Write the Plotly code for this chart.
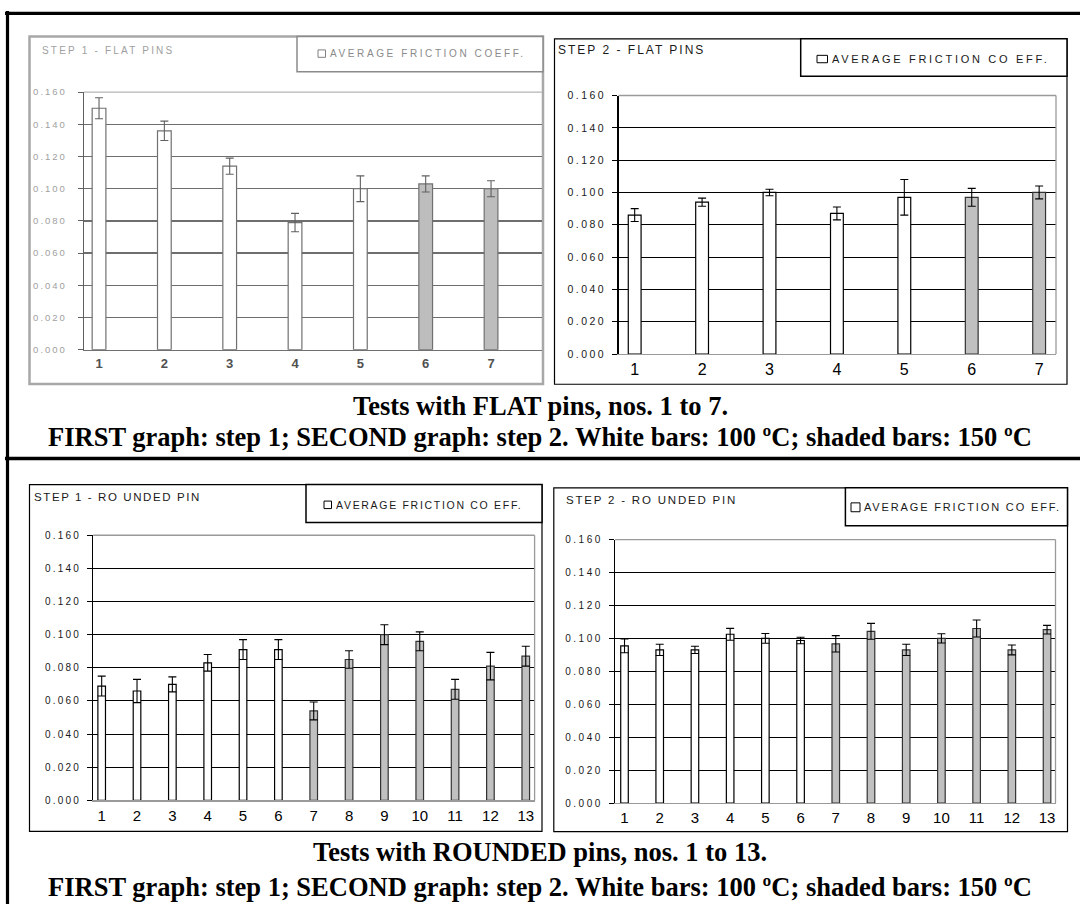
import plotly.graph_objects as go

W, H = 1080, 910

# ---------------- data ----------------
flat_tests = [1, 2, 3, 4, 5, 6, 7]
flat_temp_c = [100, 100, 100, 100, 100, 150, 150]
flat_step1_mu = [0.150, 0.136, 0.114, 0.079, 0.100, 0.103, 0.100]
flat_step1_err = [0.0065, 0.006, 0.005, 0.0057, 0.008, 0.005, 0.005]
flat_step2_mu = [0.086, 0.094, 0.100, 0.087, 0.097, 0.097, 0.100]
flat_step2_err = [0.004, 0.0025, 0.002, 0.004, 0.011, 0.0055, 0.004]

rounded_tests = [1, 2, 3, 4, 5, 6, 7, 8, 9, 10, 11, 12, 13]
rounded_temp_c = [100, 100, 100, 100, 100, 100, 150, 150, 150, 150, 150, 150, 150]
rounded_step1_mu = [0.069, 0.066, 0.070, 0.083, 0.091, 0.091, 0.054, 0.085,
                    0.100, 0.096, 0.067, 0.081, 0.087]
rounded_step1_err = [0.006, 0.007, 0.0045, 0.005, 0.006, 0.006, 0.0054, 0.0053,
                     0.006, 0.0057, 0.006, 0.0083, 0.006]
rounded_step2_mu = [0.0955, 0.093, 0.093, 0.1025, 0.100, 0.0987, 0.0967, 0.1043,
                    0.093, 0.100, 0.106, 0.093, 0.1053]
rounded_step2_err = [0.0042, 0.0034, 0.0022, 0.0036, 0.003, 0.002, 0.005, 0.0048,
                     0.0034, 0.0028, 0.0052, 0.003, 0.0026]

y_tick_vals = [0.000, 0.020, 0.040, 0.060, 0.080, 0.100, 0.120, 0.140, 0.160]
legend_label = "AVERAGE FRICTION CO EFF."
titles = ["STEP 1 - FLAT PINS", "STEP 2 - FLAT PINS",
          "STEP 1 - RO UNDED PIN", "STEP 2 - RO UNDED PIN"]
caption_flat = ["Tests with FLAT pins, nos. 1 to 7.",
                "FIRST graph: step 1; SECOND graph: step 2. White bars: 100 ºC; shaded bars: 150 ºC"]
caption_rounded = ["Tests with ROUNDED pins, nos. 1 to 13.",
                   "FIRST graph: step 1; SECOND graph: step 2. White bars: 100 ºC; shaded bars: 150 ºC"]


def px_x(px):
    return px / W


def px_y(py):
    return 1 - py / H


def sp(text, ls):
    return f'<span style="letter-spacing:{ls}px">{text}</span>'


SANS = "Arial, Liberation Sans, Arimo, sans-serif"
SERIF = "Times New Roman, Liberation Serif, serif"

panels = [
    dict(tests=flat_tests, mu=flat_step1_mu, err=flat_step1_err, temp=flat_temp_c,
         plot=(84, 87.3, 542, 348.3), xr=(0.77, 7.78), bw=0.21, faded=True,
         frame=(29.5, 31, 543, 383), legend=(297, 31, 543, 66.7),
         sq=(318, 44.5, 325.5, 52), leg_text_x=328, leg_y=48.5,
         title_xy=(40, 45), title_size=10, title_ls=2.2,
         xt_size=13, yt_size=9.5, yt_ls=2.0, yt_standoff=9, leg_size=10, leg_ls=2.6,
         leg_txt="AVERAGE FRICTION COEFF."),
    dict(tests=flat_tests, mu=flat_step2_mu, err=flat_step2_err, temp=flat_temp_c,
         plot=(618.5, 90.7, 1056, 352.7), xr=(0.76, 7.25), bw=0.19, faded=False,
         frame=(554.5, 33.3, 1067, 383.3), legend=(800.7, 33.3, 1067, 71.3),
         sq=(817, 50, 827.5, 57.5), leg_text_x=830, leg_y=54,
         title_xy=(556.5, 45), title_size=12, title_ls=2.0,
         xt_size=16, yt_size=10.5, yt_ls=2.5, yt_standoff=4, leg_size=11, leg_ls=2.7,
         leg_txt=legend_label),
    dict(tests=rounded_tests, mu=rounded_step1_mu, err=rounded_step1_err, temp=rounded_temp_c,
         plot=(93.2, 536.3, 534.6, 805), xr=(0.76, 13.25), bw=0.215, faded=False,
         frame=(29.5, 485, 542, 836.5), legend=(306, 485, 542, 523.3),
         sq=(324, 501.7, 331.5, 509.3), leg_text_x=334, leg_y=505.5,
         title_xy=(31.5, 497.7), title_size=11.5, title_ls=1.6,
         xt_size=15, yt_size=10, yt_ls=2.2, yt_standoff=4, leg_size=10.5, leg_ls=1.7,
         leg_txt=legend_label),
    dict(tests=rounded_tests, mu=rounded_step2_mu, err=rounded_step2_err, temp=rounded_temp_c,
         plot=(615, 540.7, 1055.5, 807.7), xr=(0.73, 13.24), bw=0.215, faded=False,
         frame=(553.8, 488.3, 1067.5, 836.7), legend=(845.4, 488.3, 1067.5, 526.7),
         sq=(851, 503.5, 860, 512.5), leg_text_x=862, leg_y=508,
         title_xy=(564, 500.7), title_size=11.5, title_ls=1.8,
         xt_size=15, yt_size=10, yt_ls=2.5, yt_standoff=4, leg_size=11, leg_ls=1.85,
         leg_txt=legend_label),
]

fig = go.Figure()
shapes = []
annotations = []

for i, p in enumerate(panels, start=1):
    sfx = "" if i == 1 else str(i)
    faded = p["faded"]
    grid_c = "#6e6e6e" if faded else "#000000"
    axis_c = "#606060" if faded else "#000000"
    border_c = "#b5b5b5" if faded else "#9a9a9a"
    tick_font_c = "#a0a0a0" if faded else "#1a1a1a"
    xtick_c = "#505050" if faded else "#000000"
    title_c = "#a0a0a0" if faded else "#1a1a1a"
    white_line = "#707070" if faded else "#000000"
    gray_line = "#707070" if faded else "#333333"
    gray_fill = "#bdbdbd" if faded else "#c0c0c0"
    err_c = "#606060" if faded else "#000000"
    frame_c = "#a8a8a8" if faded else "#000000"

    fills = ["#ffffff" if t == 100 else gray_fill for t in p["temp"]]
    lines = [white_line if t == 100 else gray_line for t in p["temp"]]

    fig.add_trace(go.Bar(
        x=p["tests"], y=p["mu"], width=p["bw"],
        marker=dict(color=fills, line=dict(color=lines, width=1.2)),
        error_y=dict(type="data", array=p["err"], visible=True,
                     color=err_c, thickness=1.1, width=4),
        xaxis="x" + sfx, yaxis="y" + sfx, showlegend=False,
        name="AVERAGE FRICTION COEFF.",
    ))

    x0, y0, x1, y1 = p["plot"]
    fig.layout["xaxis" + sfx] = dict(
        domain=[px_x(x0), px_x(x1)], anchor="y" + sfx, range=list(p["xr"]),
        tickmode="array", tickvals=p["tests"], ticktext=[str(t) for t in p["tests"]],
        ticks="", showgrid=False, zeroline=False,
        showline=True, linecolor=("#707070" if faded else "#9a9a9a"), linewidth=1.2,
        tickfont=dict(family=SANS, size=p["xt_size"], color=xtick_c,
                      weight=("bold" if faded else "normal")),
        ticklabelstandoff=1, fixedrange=True,
    )
    fig.layout["yaxis" + sfx] = dict(
        domain=[px_y(y1), px_y(y0)], anchor="x" + sfx, range=[0, 0.16],
        tickmode="array", tickvals=y_tick_vals,
        ticktext=[sp(f"{v:.3f}", p["yt_ls"]) for v in y_tick_vals],
        ticks="outside", ticklen=5, tickcolor=axis_c, tickwidth=1,
        showgrid=True, gridcolor=grid_c, gridwidth=(1.5 if faded else 1),
        zeroline=False, showline=True, linecolor=axis_c, linewidth=1.2,
        tickfont=dict(family=SANS, size=p["yt_size"], color=tick_font_c),
        ticklabelstandoff=p["yt_standoff"], fixedrange=True,
    )

    # plot-area border (top & right in light grey)
    shapes.append(dict(type="line", xref="paper", yref="paper",
                       x0=px_x(x0), x1=px_x(x1), y0=px_y(y0), y1=px_y(y0),
                       line=dict(color=border_c, width=1.3), layer="above"))
    if not faded:
        shapes.append(dict(type="line", xref="paper", yref="paper",
                           x0=px_x(x1), x1=px_x(x1), y0=px_y(y0), y1=px_y(y1),
                           line=dict(color=border_c, width=1.3), layer="above"))

    # panel frame
    fx0, fy0, fx1, fy1 = p["frame"]
    shapes.append(dict(type="rect", xref="paper", yref="paper",
                       x0=px_x(fx0), x1=px_x(fx1), y0=px_y(fy1), y1=px_y(fy0),
                       line=dict(color=frame_c, width=(2.5 if faded else 1.2)),
                       layer="below"))
    # legend box
    lx0, ly0, lx1, ly1 = p["legend"]
    shapes.append(dict(type="rect", xref="paper", yref="paper",
                       x0=px_x(lx0), x1=px_x(lx1), y0=px_y(ly1), y1=px_y(ly0),
                       line=dict(color=("#8a8a8a" if faded else "#000000"), width=1.5),
                       fillcolor="white", layer="below"))
    # legend marker (white bar swatch)
    sx0, sy0, sx1, sy1 = p["sq"]
    shapes.append(dict(type="rect", xref="paper", yref="paper",
                       x0=px_x(sx0), x1=px_x(sx1), y0=px_y(sy1), y1=px_y(sy0),
                       line=dict(color=("#808080" if faded else "#000000"), width=1),
                       fillcolor="white", layer="above"))
    annotations.append(dict(
        xref="paper", yref="paper", x=px_x(p["leg_text_x"]), y=px_y(p["leg_y"]),
        xanchor="left", yanchor="middle", showarrow=False,
        text=sp(p["leg_txt"], p["leg_ls"]),
        font=dict(family=SANS, size=p["leg_size"], color=("#8a8a8a" if faded else "#1a1a1a")),
    ))
    # title
    tx, ty = p["title_xy"]
    annotations.append(dict(
        xref="paper", yref="paper", x=px_x(tx), y=px_y(ty),
        xanchor="left", yanchor="middle", showarrow=False,
        text=sp(titles[i - 1], p["title_ls"]),
        font=dict(family=SANS, size=p["title_size"], color=title_c),
    ))

# outer black frame lines
for (ax0, ay0, ax1, ay1, w) in [(7.5, 5, 7.5, 910, 3.2),
                                 (5, 7.5, 1080, 7.5, 3.2),
                                 (5, 458.5, 1080, 458.5, 3.6)]:
    shapes.append(dict(type="line", xref="paper", yref="paper",
                       x0=px_x(ax0), x1=px_x(ax1), y0=px_y(ay0), y1=px_y(ay1),
                       line=dict(color="black", width=w), layer="above"))

# captions
for lines_, ys in [(caption_flat, (403, 435)), (caption_rounded, (855, 891))]:
    for txt, yy in zip(lines_, ys):
        annotations.append(dict(
            xref="paper", yref="paper", x=0.5, y=px_y(yy + 2),
            xanchor="center", yanchor="middle", showarrow=False,
            text=f"<b>{txt}</b>",
            font=dict(family=SERIF, size=26.5, color="black"),
        ))

fig.update_layout(
    width=W, height=H, autosize=False,
    margin=dict(l=0, r=0, t=0, b=0, pad=0),
    paper_bgcolor="white", plot_bgcolor="rgba(0,0,0,0)",
    showlegend=False, bargap=0,
    shapes=shapes, annotations=annotations,
)

fig.write_html("out.html",
               config={"displayModeBar": False, "staticPlot": True},
               post_script="document.body.style.margin='0';document.body.style.padding='0';")
